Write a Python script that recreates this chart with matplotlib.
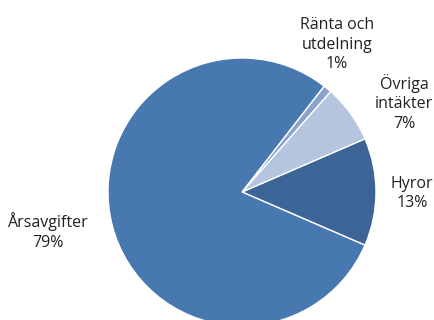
import matplotlib.pyplot as plt

plt.rcParams['font.family'] = ['Open Sans', 'DejaVu Sans']

# data
labels = ['Hyror', 'Övriga\nintäkter', 'Ränta och\nutdelning', 'Årsavgifter']
values = [13, 7, 1, 79]
colors = ['#3d6497', '#b5c4df', '#8aa3cd', '#4878b0']

fig = plt.figure(figsize=(4.35, 3.2), dpi=100)
ax = fig.add_axes([0, 0, 1, 1])

wedges, _ = ax.pie(values, colors=colors, startangle=-23.4, counterclock=True,
                   radius=1, center=(0, 0),
                   wedgeprops=dict(edgecolor='white', linewidth=1.0))

# label positions (data units, pie radius = 1)
label_pos = [(1.27, -0.01), (1.21, 0.665), (0.71, 1.10), (-1.45, -0.295)]
for lab, v, (x, y) in zip(labels, values, label_pos):
    ax.text(x, y, f'{lab}\n{v}%', ha='center', va='center', fontsize=11.5,
            color='#222222', linespacing=1.3)

ax.set_xlim(-242 / 134, (435 - 242) / 134)
ax.set_ylim(-(320 - 192) / 134, 192 / 134)
ax.set_aspect('equal')
ax.axis('off')

fig.savefig('out.png', dpi=100)
